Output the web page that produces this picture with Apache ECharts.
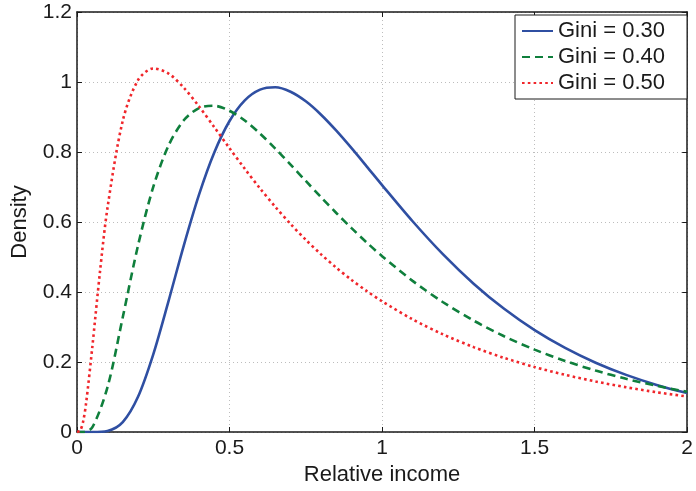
<!DOCTYPE html>
<html>
<head>
<meta charset="utf-8">
<script src="https://cdn.jsdelivr.net/npm/echarts@6/dist/echarts.min.js"></script>
<style>html,body{margin:0;padding:0;background:#fff}#c{width:696px;height:491px}</style>
</head>
<body>
<div id="c"></div>
<script>
const seriesNames = ['Gini = 0.30', 'Gini = 0.40', 'Gini = 0.50'];
const xTicks = ['0', '0.5', '1', '1.5', '2'];
const yTicks = ['0', '0.2', '0.4', '0.6', '0.8', '1', '1.2'];

const xA = [0, 0.05, 0.1, 0.15, 0.2, 0.25, 0.3, 0.35, 0.4, 0.45, 0.5, 0.55, 0.6, 0.65, 0.7, 0.75, 0.8, 0.85, 0.9, 0.95, 1.0, 1.1, 1.2, 1.3, 1.4, 1.5, 1.6, 1.7, 1.8, 1.9, 2.0];
const gini30 = [0, 0.0000, 0.0030, 0.0283, 0.1006, 0.2219, 0.3739, 0.5326, 0.6781, 0.7986, 0.8885, 0.9475, 0.9781, 0.9849, 0.9722, 0.9448, 0.9066, 0.8610, 0.8109, 0.7584, 0.7054, 0.6021, 0.5074, 0.4238, 0.3519, 0.2911, 0.2403, 0.1980, 0.1632, 0.1346, 0.1111];

const xB = [0, 0.02, 0.05, 0.1, 0.15, 0.2, 0.25, 0.3, 0.35, 0.4, 0.45, 0.5, 0.55, 0.6, 0.65, 0.7, 0.75, 0.8, 0.85, 0.9, 0.95, 1.0, 1.1, 1.2, 1.3, 1.4, 1.5, 1.6, 1.7, 1.8, 1.9, 2.0];
const gini40 = [0, 0.0002, 0.0129, 0.1281, 0.3280, 0.5329, 0.7003, 0.8183, 0.8906, 0.9255, 0.9320, 0.9179, 0.8898, 0.8525, 0.8097, 0.7640, 0.7172, 0.6709, 0.6257, 0.5824, 0.5411, 0.5023, 0.4318, 0.3707, 0.3183, 0.2735, 0.2354, 0.2030, 0.1754, 0.1519, 0.1319, 0.1148];

const xC = [0, 0.01, 0.02, 0.03, 0.05, 0.075, 0.1, 0.15, 0.2, 0.25, 0.3, 0.35, 0.4, 0.45, 0.5, 0.55, 0.6, 0.65, 0.7, 0.75, 0.8, 0.85, 0.9, 0.95, 1.0, 1.1, 1.2, 1.3, 1.4, 1.5, 1.6, 1.7, 1.8, 1.9, 2.0];
const gini50 = [0, 0.0033, 0.0294, 0.0836, 0.2410, 0.4552, 0.6408, 0.8894, 1.0054, 1.0387, 1.0242, 0.9838, 0.9302, 0.8710, 0.8107, 0.7519, 0.6958, 0.6432, 0.5942, 0.5491, 0.5076, 0.4694, 0.4345, 0.4025, 0.3733, 0.3219, 0.2788, 0.2425, 0.2117, 0.1856, 0.1633, 0.1443, 0.1278, 0.1136, 0.1014];

const pairs = (xs, ys) => xs.map((x, i) => [x, ys[i]]);
const font = 'Liberation Sans, Arial, sans-serif';
const txt = '#1a1a1a';

const chart = echarts.init(document.getElementById('c'), null, {renderer: 'canvas'});
const tickStyle = {show: true, inside: true, length: 5, lineStyle: {color: '#1a1a1a', width: 1}};
const axisLine = {show: true, onZero: false, lineStyle: {color: '#1a1a1a', width: 1.5}};
const split = {show: true, lineStyle: {color: '#bdbdbd', type: [1, 3], width: 1}};

chart.setOption({
  animation: false,
  backgroundColor: '#fff',
  grid: {left: 77, right: 6, top: 12, bottom: 59, containLabel: false},
  legend: {
    orient: 'vertical', left: 515, top: 15,
    padding: [5, 22, 5, 6], itemGap: 4,
    borderColor: '#1a1a1a', borderWidth: 1, backgroundColor: '#fff',
    itemWidth: 31, itemHeight: 20,
    itemStyle: {opacity: 0},
    textStyle: {fontFamily: font, fontSize: 22, color: txt},
    data: seriesNames
  },
  xAxis: [{
    type: 'value', min: 0, max: 2, interval: 0.5,
    name: 'Relative income', nameLocation: 'middle', nameGap: 29,
    nameTextStyle: {fontFamily: font, fontSize: 22, color: txt},
    axisLine: axisLine, axisTick: tickStyle, splitLine: split,
    axisLabel: {fontFamily: font, fontSize: 21, color: txt, margin: 6,
      formatter: v => xTicks[Math.round(v / 0.5)]}
  }, {
    type: 'value', min: 0, max: 2, interval: 0.5, position: 'top',
    axisLine: axisLine, axisTick: tickStyle, splitLine: {show: false}, axisLabel: {show: false}
  }],
  yAxis: [{
    type: 'value', min: 0, max: 1.2, interval: 0.2,
    name: 'Density', nameLocation: 'middle', nameGap: 46, nameRotate: 90,
    nameTextStyle: {fontFamily: font, fontSize: 22, color: txt},
    axisLine: axisLine, axisTick: tickStyle, splitLine: split,
    axisLabel: {fontFamily: font, fontSize: 21, color: txt, margin: 5,
      formatter: v => yTicks[Math.round(v / 0.2)]}
  }, {
    type: 'value', min: 0, max: 1.2, interval: 0.2, position: 'right',
    axisLine: axisLine, axisTick: tickStyle, splitLine: {show: false}, axisLabel: {show: false}
  }],
  series: [
    {name: seriesNames[0], type: 'line', smooth: 0.3, symbol: 'none',
      data: pairs(xA, gini30), color: '#2f4fa2',
      lineStyle: {color: '#2f4fa2', width: 2.6}},
    {name: seriesNames[1], type: 'line', smooth: 0.3, symbol: 'none',
      data: pairs(xB, gini40), color: '#0f7f3c',
      lineStyle: {color: '#0f7f3c', width: 2.6, type: [8, 5]}},
    {name: seriesNames[2], type: 'line', smooth: 0.3, symbol: 'none',
      data: pairs(xC, gini50), color: '#f0262b',
      lineStyle: {color: '#f0262b', width: 2.6, type: [2.6, 3.2]}}
  ]
});
</script>
</body>
</html>
